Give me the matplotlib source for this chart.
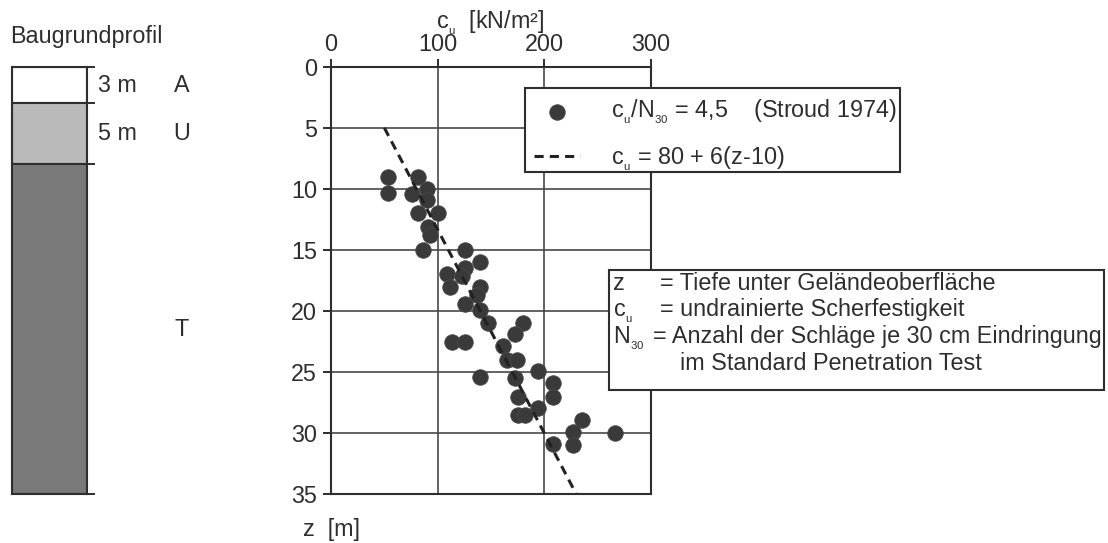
import matplotlib
matplotlib.use("Agg")
import matplotlib.pyplot as plt
import matplotlib.transforms as mtrans
from matplotlib.patches import Rectangle
import numpy as np

plt.rcParams['font.family'] = ['Liberation Sans', 'DejaVu Sans']
plt.rcParams['mathtext.fontset'] = 'custom'
plt.rcParams['mathtext.rm'] = 'Liberation Sans'
plt.rcParams['mathtext.default'] = 'regular'

# soil profile
layer_names = ['A', 'U', 'T']
layer_thick = [3, 5, 27]
layer_labels = ['3 m', '5 m', '']
layer_colors = ['#ffffff', '#bababa', '#7a7a7a']

# SPT-derived undrained shear strength (cu in kN/m², z in m)
cu_pts = [53.7, 53.7, 81.8, 75.7, 89.7, 90.3, 81.8, 100.6, 91.2, 92.8,
          86.5, 125.6, 139.7, 125.6, 108.5, 122.5, 111.6, 139.7, 136.6, 125.6,
          139.7, 147.5, 180.3, 172.5, 113.2, 125.6, 161.5, 164.7, 174.1, 139.7,
          172.5, 194.3, 208.4, 208.4, 175.6, 194.3, 175.6, 181.9, 235.0, 227.2,
          227.2, 208.4, 266.2]
z_pts = [9.0, 10.3, 9.0, 10.45, 10.0, 10.9, 12.0, 12.0, 13.1, 13.8,
         15.0, 15.0, 16.0, 16.5, 17.0, 17.1, 18.0, 18.0, 18.7, 19.4,
         19.9, 21.0, 21.0, 21.9, 22.5, 22.5, 22.9, 24.0, 24.0, 25.4,
         25.5, 24.9, 25.9, 27.0, 27.0, 27.9, 28.5, 28.5, 28.9, 29.9,
         31.0, 30.9, 30.0]

# trend line cu = 80 + 6(z-10)
z_line = np.array([5, 35])
cu_line = 80 + 6 * (z_line - 10)

W, H = 1108, 543
FS = 16.8
fig = plt.figure(figsize=(W / 100, H / 100), dpi=100)


def fx(px):
    return px / W


def fy(py):
    return 1 - py / H


ink = '#2e2e2e'
top_px, bot_px = 66.7, 494.3
CU = 'c$_{_u}$'
N30 = 'N$_{_{30}}$'

# main chart
ax = fig.add_axes([fx(331), fy(bot_px), (651 - 331) / W, (bot_px - top_px) / H])
ax.set_xlim(0, 300)
ax.set_ylim(35, 0)
ax.xaxis.tick_top()
ax.set_xticks([0, 100, 200, 300])
ax.set_yticks(range(0, 36, 5))
ax.grid(True, color='#484848', lw=1.2)
ax.set_axisbelow(True)
for s in ax.spines.values():
    s.set_color(ink)
    s.set_linewidth(1.5)
ax.tick_params(direction='out', length=5.5, width=1.4, colors=ink,
               labelsize=FS)
ax.tick_params(axis='x', pad=2)
ax.tick_params(axis='y', pad=4.5)
fig.text(fx(490), fy(28), CU + '  [kN/m²]', fontsize=FS, color=ink,
         ha='center', va='baseline')
ax.text(0, -35 / (bot_px - top_px), 'z  [m]', transform=ax.transAxes,
        ha='center', va='center', fontsize=FS, color=ink)

sc = ax.scatter(cu_pts, z_pts, s=125, c='#3a3a3a', edgecolors='#4a4a4a',
                linewidths=0.6, zorder=3)
ln, = ax.plot(cu_line, z_line, color='#222222', lw=2.2, ls=(0, (3, 2)),
              zorder=4)

# legend with a hand-placed frame
ax.add_patch(Rectangle((fx(525), fy(171.7)), (900 - 525) / W, (171.7 - 88.3) / H,
                       transform=fig.transFigure, fc='white', ec=ink, lw=1.5,
                       clip_on=False, zorder=4.5))
leg = ax.legend([sc, ln],
                [CU + '/' + N30 + ' = 4,5    (Stroud 1974)',
                 CU + ' = 80 + 6(z-10)'],
                loc='upper left', bbox_to_anchor=(fx(525), fy(88.3)),
                bbox_transform=fig.transFigure, borderaxespad=0,
                fontsize=FS, frameon=False,
                handlelength=1.95, handletextpad=1.35, labelspacing=0.78,
                borderpad=0.40, scatterpoints=1)
for t in leg.get_texts():
    t.set_color(ink)

# explanation box
fig.add_artist(Rectangle((fx(609), fy(390)), (1104 - 609) / W, (390 - 270) / H,
                         transform=fig.transFigure, fc='white', ec=ink,
                         lw=1.5, zorder=5))
sym = ['z', CU, N30, '']
desc = ['= Tiefe unter Geländeoberfläche', '= undrainierte Scherfestigkeit',
        '= Anzahl der Schläge je 30 cm Eindringung',
        'im Standard Penetration Test']
desc_x = [660, 660, 653, 680]
base_y = [290, 316, 343, 370]
for s_, d_, dx, by in zip(sym, desc, desc_x, base_y):
    fig.text(fx(613), fy(by), s_, fontsize=FS, color=ink, va='baseline',
             zorder=6)
    fig.text(fx(dx), fy(by), d_, fontsize=FS, color=ink, va='baseline',
             zorder=6)

# soil profile column
axp = fig.add_axes([fx(11.7), fy(bot_px), (87.3 - 11.7) / W, (bot_px - top_px) / H])
axp.set_xlim(0, 1)
axp.set_ylim(35, 0)
tops = np.concatenate([[0], np.cumsum(layer_thick)[:-1]])
axp.bar(0.5, layer_thick, bottom=tops, width=1, color=layer_colors,
        edgecolor=ink, lw=1.5)
axp.set_xticks([])
axp.yaxis.tick_right()
axp.set_yticks(list(tops) + [sum(layer_thick)])
axp.set_yticklabels([])
axp.tick_params(axis='y', direction='out', length=6, width=1.4, colors=ink)
for s in axp.spines.values():
    s.set_color(ink)
    s.set_linewidth(1.5)
tr = mtrans.blended_transform_factory(axp.transAxes, axp.transData)
for name, lab, t0, th in zip(layer_names, layer_labels, tops, layer_thick):
    mid = t0 + th / 2
    axp.text(1.14, mid, lab, transform=tr, ha='left', va='center',
             fontsize=FS, color=ink, clip_on=False)
    axp.text(2.25, mid, name, transform=tr, ha='center', va='center',
             fontsize=FS, color=ink, clip_on=False)

fig.text(fx(10), fy(43), 'Baugrundprofil', fontsize=FS, color=ink,
         va='baseline')

fig.savefig('out.png', dpi=100)
